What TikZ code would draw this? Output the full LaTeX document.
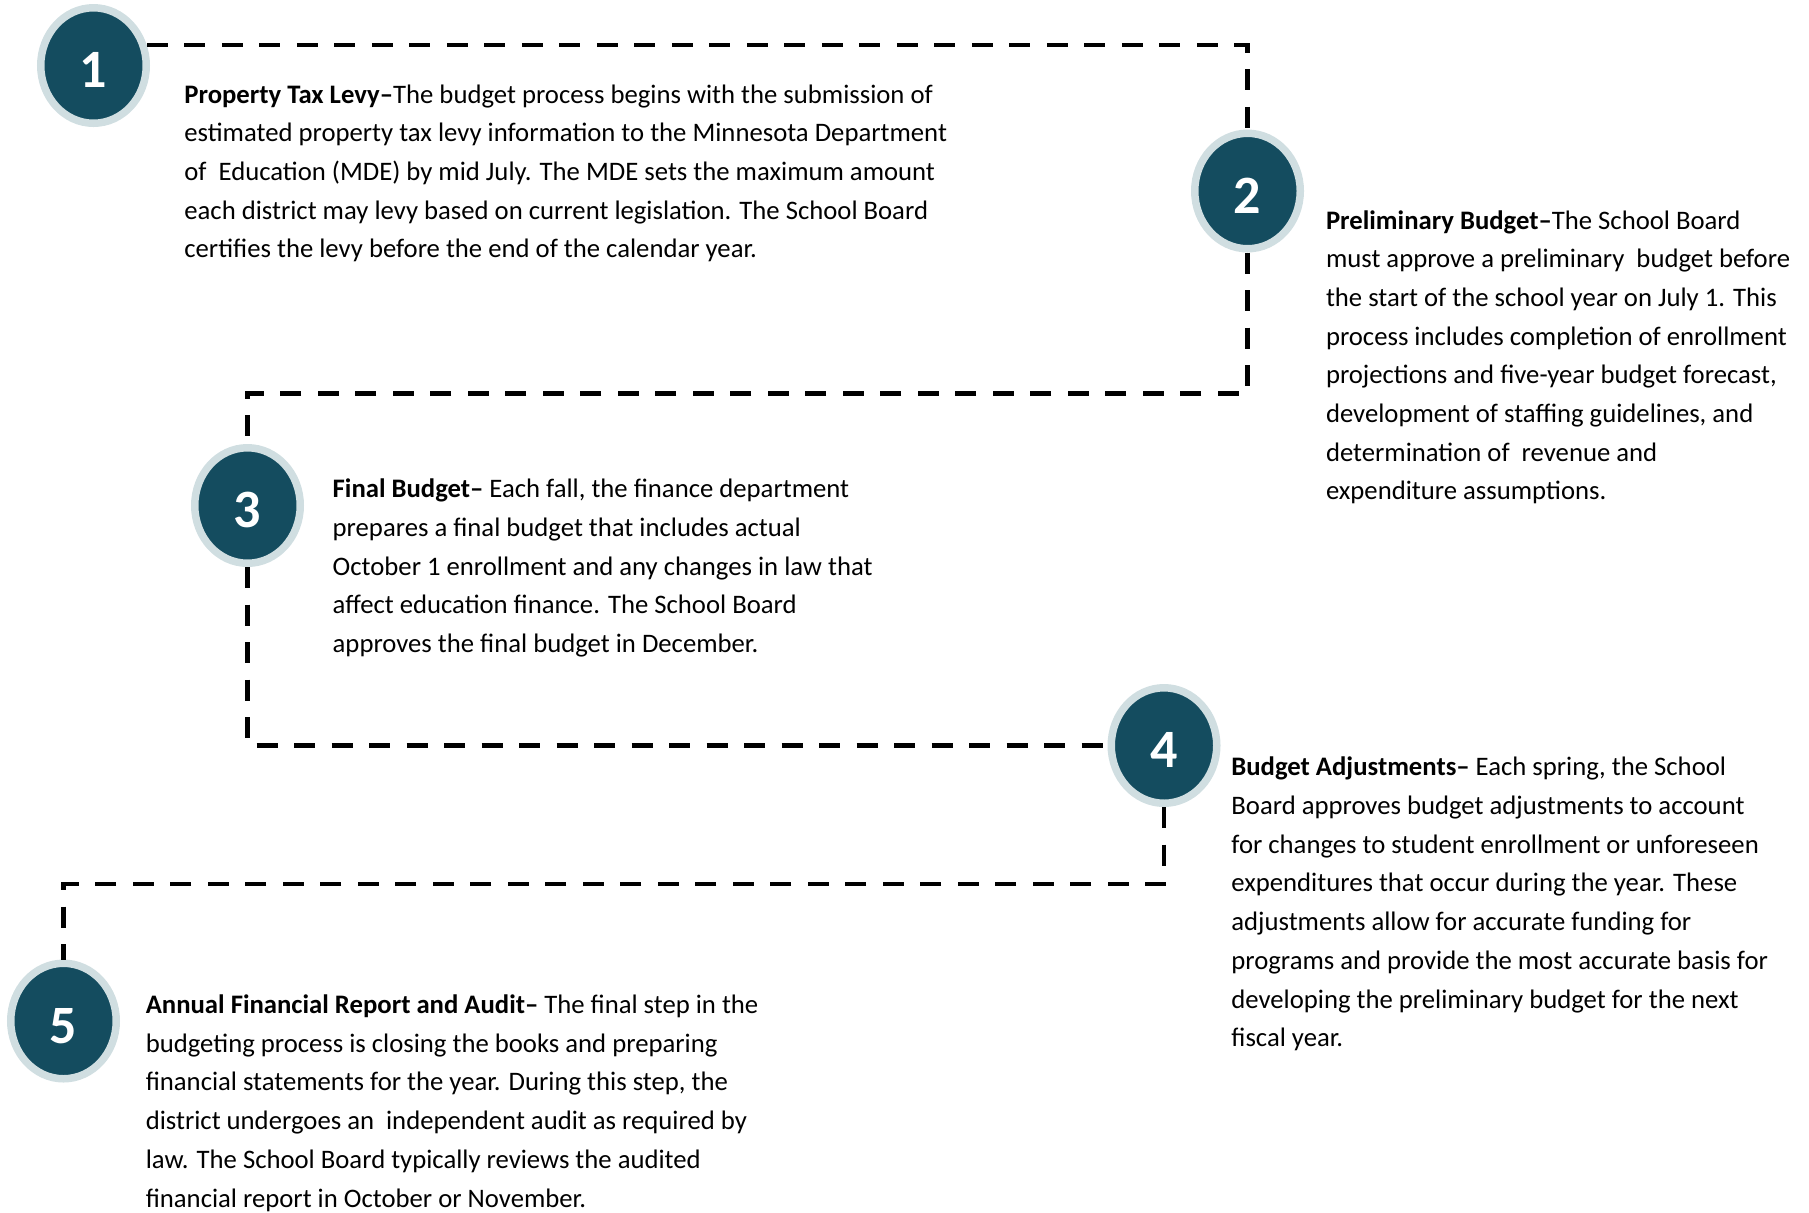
\documentclass[tikz,border=0pt]{standalone}
\usepackage{fontspec}
\setmainfont{Carlito}
\usepackage{xcolor}
\usetikzlibrary{shapes.geometric}

\definecolor{stepteal}{RGB}{20,76,95}
\definecolor{stepring}{RGB}{208,222,225}

\tikzset{
  stepdot/.style={ellipse, fill=stepteal, draw=stepring, line width=3.75pt,
    minimum width=52.75pt, minimum height=57.75pt, inner sep=0pt,
    text height=22pt, text depth=0pt,
    text=white, font=\fontsize{27}{27}\selectfont\bfseries},
  linkline/.style={line width=2.25pt, dash pattern=on 10.5pt off 8.25pt},
  % placed by the baseline of the last line
  steptext/.style={anchor=base west, align=left, inner sep=0pt,
    font=\fontsize{13.35}{19.35}\selectfont}
}

\begin{document}
\begin{tikzpicture}[x=0.5pt, y=-0.5pt]
  \useasboundingbox (0,0) rectangle (1809,1212);

  % Numbered step markers
  \node[stepdot] (c1) at (93.5,65.5) {1};
  \node[stepdot] (c2) at (1247.5,191) {2};
  \node[stepdot] (c3) at (247.5,505.5) {3};
  \node[stepdot] (c4) at (1164,745.5) {4};
  \node[stepdot] (c5) at (63.5,1021) {5};

  % Dashed path from step to step
  \draw[linkline] (c1.21) -| (c2);
  \draw[linkline] (c2.south) -- ++(0,141) -| (c3);
  \draw[linkline] (c3.south) |- (c4);
  \draw[linkline] (c4.south) -- ++(0,77) -| (c5);

  % Step descriptions
  \node[steptext] (t1) at (184,257.9) {\textbf{Property Tax Levy–}The budget process begins with the submission of\\
    estimated property tax levy information to the Minnesota Department\\
    of~ Education (MDE) by mid July. The MDE sets the maximum amount\\
    each district may levy based on current legislation. The School Board\\
    certifies the levy before the end of the calendar year.};
  \node[steptext] (t2) at (1325.6,499.9) {\textbf{Preliminary Budget–}The School Board\\
    must approve a preliminary~ budget before\\
    the start of the school year on July 1. This\\
    process includes completion of enrollment\\
    projections and five-year budget forecast,\\
    development of staffing guidelines, and\\
    determination of~ revenue and\\
    expenditure assumptions.};
  \node[steptext] (t3) at (332.3,652.5) {\textbf{Final Budget–} Each fall, the finance department\\
    prepares a final budget that includes actual\\
    October 1 enrollment and any changes in law that\\
    affect education finance. The School Board\\
    approves the final budget in December.};
  \node[steptext] (t4) at (1231,1046.7) {\textbf{Budget Adjustments–} Each spring, the School\\
    Board approves budget adjustments to account\\
    for changes to student enrollment or unforeseen\\
    expenditures that occur during the year. These\\
    adjustments allow for accurate funding for\\
    programs and provide the most accurate basis for\\
    developing the preliminary budget for the next\\
    fiscal year.};
  \node[steptext] (t5) at (145.4,1207) {\textbf{Annual Financial Report and Audit–} The final step in the\\
    budgeting process is closing the books and preparing\\
    financial statements for the year. During this step, the\\
    district undergoes an~ independent audit as required by\\
    law. The School Board typically reviews the audited\\
    financial report in October or November.};

\end{tikzpicture}
\end{document}
